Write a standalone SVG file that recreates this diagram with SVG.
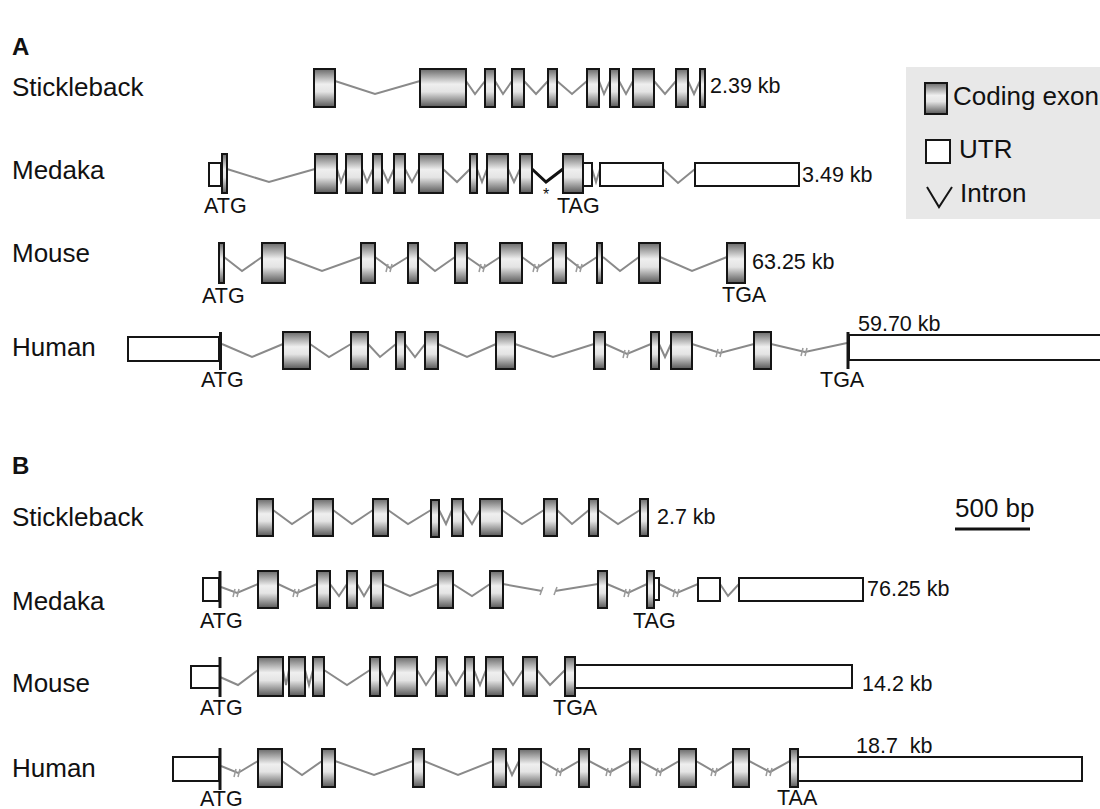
<svg xmlns="http://www.w3.org/2000/svg" width="1100" height="809" viewBox="0 0 1100 809">
<defs>
<linearGradient id="g" x1="0" y1="0" x2="0" y2="1">
<stop offset="0" stop-color="#6a6a6a"/>
<stop offset="0.4" stop-color="#efefef"/>
<stop offset="0.6" stop-color="#e4e4e4"/>
<stop offset="1" stop-color="#585858"/>
</linearGradient>
<style>
.ex{fill:url(#g);stroke:#151515;stroke-width:2}
.utr{fill:#fff;stroke:#151515;stroke-width:2}
.in{fill:none;stroke:#8a8a8a;stroke-width:2}
.ink{fill:none;stroke:#111;stroke-width:3}
.bk{fill:none;stroke:#9a9a9a;stroke-width:1.5}
.cod{stroke:#151515;stroke-width:3}
text{font-family:"Liberation Sans",Arial,Helvetica,sans-serif;fill:#111}
.lab{font-size:26px}
.kb{font-size:21.5px}
.hd{font-size:24px;font-weight:bold}
</style>
</defs>
<rect width="1100" height="809" fill="#fff"/>

<!-- headings and labels -->
<text class="hd" x="12" y="55">A</text>
<text class="hd" x="12" y="474">B</text>
<text class="lab" x="12" y="96">Stickleback</text>
<text class="lab" x="12" y="179">Medaka</text>
<text class="lab" x="12" y="262">Mouse</text>
<text class="lab" x="12" y="356">Human</text>
<text class="lab" x="12" y="526">Stickleback</text>
<text class="lab" x="12" y="610">Medaka</text>
<text class="lab" x="12" y="692">Mouse</text>
<text class="lab" x="12" y="777">Human</text>

<!-- legend -->
<g id="legend">
<rect x="906" y="67" width="196" height="152" fill="#e8e8e8"/>
<rect class="ex" x="925" y="83" width="22" height="31"/>
<text class="lab" x="953" y="105">Coding exon</text>
<rect class="utr" x="926" y="140" width="24" height="23"/>
<text class="lab" x="959" y="158">UTR</text>
<polyline points="927,187 939,207 952,187" fill="none" stroke="#151515" stroke-width="2"/>
<text class="lab" x="960" y="202">Intron</text>
</g>

<!-- scale bar -->
<g id="scale">
<text class="lab" x="955" y="517">500 bp</text>
<line x1="955" y1="529" x2="1030" y2="529" stroke="#111" stroke-width="3"/>
</g>

<!-- connectors: introns -->
<g id="introns">
<!-- A stickleback -->
<polyline class="in" points="335,81 375,94 420,81"/>
<polyline class="in" points="466,81 475,94 485,81"/>
<polyline class="in" points="495,81 503,94 512,81"/>
<polyline class="in" points="524,81 536,94 548,81"/>
<polyline class="in" points="557,81 572,94 587,81"/>
<polyline class="in" points="599,81 604,94 610,81"/>
<polyline class="in" points="619,81 626,94 633,81"/>
<polyline class="in" points="654,81 665,94 676,81"/>
<polyline class="in" points="688,81 694,94 700,81"/>
<!-- A medaka -->
<polyline class="in" points="227,169 269,182 315,169"/>
<polyline class="in" points="337,169 341,182 346,169"/>
<polyline class="in" points="362,169 367,182 373,169"/>
<polyline class="in" points="382,169 388,182 394,169"/>
<polyline class="in" points="405,169 412,182 419,169"/>
<polyline class="in" points="443,169 457,182 470,169"/>
<polyline class="in" points="477,169 482,182 487,169"/>
<polyline class="in" points="508,169 514,182 520,169"/>
<polyline class="ink" points="532,169 546,182 563,169"/>
<polyline class="in" points="592,169 596,182 600,169"/>
<polyline class="in" points="663,169 678,183 695,169"/>
<!-- A mouse -->
<polyline class="in" points="224,257 242,271 262,257"/>
<polyline class="in" points="285,257 322,271 361,257"/>
<polyline class="in" points="375,257 390,268 408,257"/>
<polyline class="in" points="418,257 435,271 455,257"/>
<polyline class="in" points="467,257 483,268 500,257"/>
<polyline class="in" points="522,257 537,268 553,257"/>
<polyline class="in" points="566,257 580,268 597,257"/>
<polyline class="in" points="603,257 620,271 639,257"/>
<polyline class="in" points="660,257 692,271 727,257"/>
<!-- A human -->
<polyline class="in" points="222,344 252,357 283,344"/>
<polyline class="in" points="310,344 329,357 351,344"/>
<polyline class="in" points="368,344 380,357 396,344"/>
<polyline class="in" points="405,344 415,357 425,344"/>
<polyline class="in" points="438,344 467,357 496,344"/>
<polyline class="in" points="515,344 553,357 594,344"/>
<polyline class="in" points="605,344 627,354 651,344"/>
<polyline class="in" points="659,344 665,357 671,344"/>
<polyline class="in" points="692,344 720,353 754,344"/>
<polyline class="in" points="771,344 805,352 847,343"/>
<!-- B stickleback -->
<polyline class="in" points="273,510 292,524 313,510"/>
<polyline class="in" points="333,510 352,524 373,510"/>
<polyline class="in" points="388,510 408,524 431,510"/>
<polyline class="in" points="439,510 446,524 452,510"/>
<polyline class="in" points="463,510 472,524 480,510"/>
<polyline class="in" points="502,510 522,524 544,510"/>
<polyline class="in" points="557,510 572,524 589,510"/>
<polyline class="in" points="598,510 618,524 640,510"/>
<!-- B medaka -->
<polyline class="in" points="221,587 237,593 258,584"/>
<polyline class="in" points="278,584 297,593 317,584"/>
<polyline class="in" points="330,584 339,596 347,584"/>
<polyline class="in" points="357,584 364,596 371,584"/>
<polyline class="in" points="383,584 410,596 438,584"/>
<polyline class="in" points="453,584 472,596 490,584"/>
<polyline class="in" points="503,584 542,591"/>
<polyline class="in" points="555,591 598,584"/>
<polyline class="in" points="607,584 628,593 647,584"/>
<polyline class="in" points="659,584 677,593 698,584"/>
<polyline class="in" points="720,584 728,596 739,584"/>
<!-- B mouse -->
<polyline class="in" points="220,677 238,685 258,670"/>
<polyline class="in" points="283,670 286,685 289,670"/>
<polyline class="in" points="305,670 309,685 313,670"/>
<polyline class="in" points="324,670 347,685 370,670"/>
<polyline class="in" points="380,670 387,685 395,670"/>
<polyline class="in" points="417,670 426,685 436,670"/>
<polyline class="in" points="447,670 456,685 465,670"/>
<polyline class="in" points="474,670 480,685 486,670"/>
<polyline class="in" points="503,670 513,685 523,670"/>
<polyline class="in" points="537,670 550,685 565,670"/>
<!-- B human -->
<polyline class="in" points="221,766 238,773 258,761"/>
<polyline class="in" points="282,761 302,775 322,761"/>
<polyline class="in" points="335,761 374,775 413,761"/>
<polyline class="in" points="424,761 458,775 493,761"/>
<polyline class="in" points="506,761 512,775 519,761"/>
<polyline class="in" points="541,761 560,772 579,761"/>
<polyline class="in" points="589,761 610,772 630,761"/>
<polyline class="in" points="640,761 660,772 679,761"/>
<polyline class="in" points="696,761 715,772 733,761"/>
<polyline class="in" points="749,761 770,772 790,761"/>
<!-- break marks -->
<path class="bk" d="M386,272 L388,264 M390,272 L392,264 M479,272 L481,264 M483,272 L485,264 M533,272 L535,264 M537,272 L539,264 M576,272 L578,264 M580,272 L582,264
M623,358 L625,350 M627,358 L629,350 M716,357 L718,349 M720,357 L722,349 M801,356 L803,348 M805,356 L807,348
M233,597 L235,589 M237,597 L239,589 M293,597 L295,589 M297,597 L299,589 M540,595 L543,587 M554,595 L557,587 M624,597 L626,589 M628,597 L630,589 M673,597 L675,589 M677,597 L679,589
M234,777 L236,769 M238,777 L240,769 M556,776 L558,768 M560,776 L562,768 M606,776 L608,768 M610,776 L612,768 M656,776 L658,768 M660,776 L662,768 M711,776 L713,768 M715,776 L717,768 M766,776 L768,768 M770,776 L772,768"/>
</g>

<!-- A: Stickleback -->
<g id="a-stickleback">
<rect class="ex" x="314" y="69" width="21" height="38"/>
<rect class="ex" x="420" y="69" width="46" height="38"/>
<rect class="ex" x="485" y="69" width="10" height="38"/>
<rect class="ex" x="512" y="69" width="12" height="38"/>
<rect class="ex" x="548" y="69" width="9" height="38"/>
<rect class="ex" x="587" y="69" width="12" height="38"/>
<rect class="ex" x="610" y="69" width="9" height="38"/>
<rect class="ex" x="633" y="69" width="21" height="38"/>
<rect class="ex" x="676" y="69" width="12" height="38"/>
<rect class="ex" x="700" y="69" width="5" height="38"/>
<text class="kb" x="710" y="93">2.39 kb</text>
</g>

<!-- A: Medaka -->
<g id="a-medaka">
<rect class="utr" x="209" y="163" width="12" height="23"/>
<rect class="ex" x="222" y="154" width="5" height="39"/>
<rect class="ex" x="315" y="154" width="22" height="39"/>
<rect class="ex" x="346" y="154" width="16" height="39"/>
<rect class="ex" x="373" y="154" width="9" height="39"/>
<rect class="ex" x="394" y="154" width="11" height="39"/>
<rect class="ex" x="419" y="154" width="24" height="39"/>
<rect class="ex" x="470" y="154" width="7" height="39"/>
<rect class="ex" x="487" y="154" width="21" height="39"/>
<rect class="ex" x="520" y="154" width="12" height="39"/>
<rect class="ex" x="563" y="154" width="20" height="39"/>
<rect class="utr" x="583" y="163" width="9" height="23"/>
<rect class="utr" x="600" y="163" width="63" height="23"/>
<rect class="utr" x="695" y="163" width="104" height="23"/>
<text x="546" y="200" font-size="16" text-anchor="middle">*</text>
<text class="kb" x="204" y="213">ATG</text>
<text class="kb" x="557" y="213">TAG</text>
<text class="kb" x="802" y="182">3.49 kb</text>
</g>

<!-- A: Mouse -->
<g id="a-mouse">
<rect class="ex" x="219" y="243" width="5" height="40"/>
<rect class="ex" x="262" y="243" width="23" height="40"/>
<rect class="ex" x="361" y="243" width="14" height="40"/>
<rect class="ex" x="408" y="243" width="10" height="40"/>
<rect class="ex" x="455" y="243" width="12" height="40"/>
<rect class="ex" x="500" y="243" width="22" height="40"/>
<rect class="ex" x="553" y="243" width="13" height="40"/>
<rect class="ex" x="597" y="243" width="5" height="40"/>
<rect class="ex" x="639" y="243" width="21" height="40"/>
<rect class="ex" x="727" y="243" width="18" height="40"/>
<text class="kb" x="202" y="303">ATG</text>
<text class="kb" x="722" y="302">TGA</text>
<text class="kb" x="752" y="269">63.25 kb</text>
</g>

<!-- A: Human -->
<g id="a-human">
<rect class="utr" x="128" y="337" width="91" height="24"/>
<line class="cod" x1="220.5" y1="332" x2="220.5" y2="370"/>
<rect class="ex" x="283" y="332" width="27" height="37"/>
<rect class="ex" x="351" y="332" width="17" height="37"/>
<rect class="ex" x="396" y="332" width="9" height="37"/>
<rect class="ex" x="425" y="332" width="13" height="37"/>
<rect class="ex" x="496" y="332" width="19" height="37"/>
<rect class="ex" x="594" y="332" width="11" height="37"/>
<rect class="ex" x="651" y="332" width="8" height="37"/>
<rect class="ex" x="671" y="332" width="21" height="37"/>
<rect class="ex" x="754" y="332" width="17" height="37"/>
<rect class="utr" x="849" y="335" width="260" height="25"/>
<line class="cod" x1="848" y1="332" x2="848" y2="369"/>
<text class="kb" x="201" y="387">ATG</text>
<text class="kb" x="820" y="387">TGA</text>
<text class="kb" x="858" y="331">59.70 kb</text>
</g>

<!-- B: Stickleback -->
<g id="b-stickleback">
<rect class="ex" x="257" y="499" width="16" height="37"/>
<rect class="ex" x="313" y="499" width="20" height="37"/>
<rect class="ex" x="373" y="499" width="15" height="37"/>
<rect class="ex" x="431" y="500" width="8" height="37"/>
<rect class="ex" x="452" y="499" width="11" height="37"/>
<rect class="ex" x="480" y="499" width="22" height="37"/>
<rect class="ex" x="544" y="499" width="13" height="37"/>
<rect class="ex" x="589" y="499" width="9" height="37"/>
<rect class="ex" x="640" y="499" width="8" height="37"/>
<text class="kb" x="657" y="524">2.7 kb</text>
</g>

<!-- B: Medaka -->
<g id="b-medaka">
<rect class="utr" x="203" y="578" width="16" height="23"/>
<line class="cod" x1="220" y1="571" x2="220" y2="608" stroke-width="2"/>
<rect class="ex" x="258" y="571" width="20" height="37"/>
<rect class="ex" x="317" y="571" width="13" height="37"/>
<rect class="ex" x="347" y="571" width="10" height="37"/>
<rect class="ex" x="371" y="571" width="12" height="37"/>
<rect class="ex" x="438" y="571" width="15" height="37"/>
<rect class="ex" x="490" y="571" width="13" height="37"/>
<rect class="ex" x="598" y="571" width="9" height="37"/>
<rect class="utr" x="654" y="578" width="5" height="22"/>
<rect class="ex" x="647" y="571" width="7" height="37"/>
<rect class="utr" x="698" y="578" width="22" height="23"/>
<rect class="utr" x="739" y="578" width="124" height="23"/>
<text class="kb" x="200" y="628">ATG</text>
<text class="kb" x="633" y="628">TAG</text>
<text class="kb" x="867" y="596">76.25 kb</text>
</g>

<!-- B: Mouse -->
<g id="b-mouse">
<rect class="utr" x="191" y="666" width="29" height="22"/>
<line class="cod" x1="220" y1="657" x2="220" y2="697" stroke-width="2"/>
<rect class="ex" x="258" y="657" width="25" height="39"/>
<rect class="ex" x="289" y="657" width="16" height="39"/>
<rect class="ex" x="313" y="657" width="11" height="39"/>
<rect class="ex" x="370" y="657" width="10" height="39"/>
<rect class="ex" x="395" y="657" width="22" height="39"/>
<rect class="ex" x="436" y="657" width="11" height="39"/>
<rect class="ex" x="465" y="657" width="9" height="39"/>
<rect class="ex" x="486" y="657" width="17" height="39"/>
<rect class="ex" x="523" y="657" width="14" height="39"/>
<rect class="ex" x="565" y="657" width="10" height="39"/>
<rect class="utr" x="575" y="665" width="277" height="23"/>
<text class="kb" x="200" y="715">ATG</text>
<text class="kb" x="553" y="715">TGA</text>
<text class="kb" x="862" y="691">14.2 kb</text>
</g>

<!-- B: Human -->
<g id="b-human">
<rect class="utr" x="173" y="757" width="46" height="24"/>
<line class="cod" x1="220" y1="748" x2="220" y2="790" stroke-width="2"/>
<rect class="ex" x="258" y="749" width="24" height="38"/>
<rect class="ex" x="322" y="749" width="13" height="38"/>
<rect class="ex" x="413" y="749" width="11" height="38"/>
<rect class="ex" x="493" y="749" width="13" height="38"/>
<rect class="ex" x="519" y="749" width="22" height="38"/>
<rect class="ex" x="579" y="749" width="10" height="38"/>
<rect class="ex" x="630" y="749" width="10" height="38"/>
<rect class="ex" x="679" y="749" width="17" height="38"/>
<rect class="ex" x="733" y="749" width="16" height="38"/>
<rect class="ex" x="790" y="749" width="8" height="38"/>
<rect class="utr" x="798" y="757" width="284" height="24"/>
<text class="kb" x="200" y="806">ATG</text>
<text class="kb" x="777" y="805">TAA</text>
<text class="kb" x="856" y="753" xml:space="preserve">18.7  kb</text>
</g>
</svg>
